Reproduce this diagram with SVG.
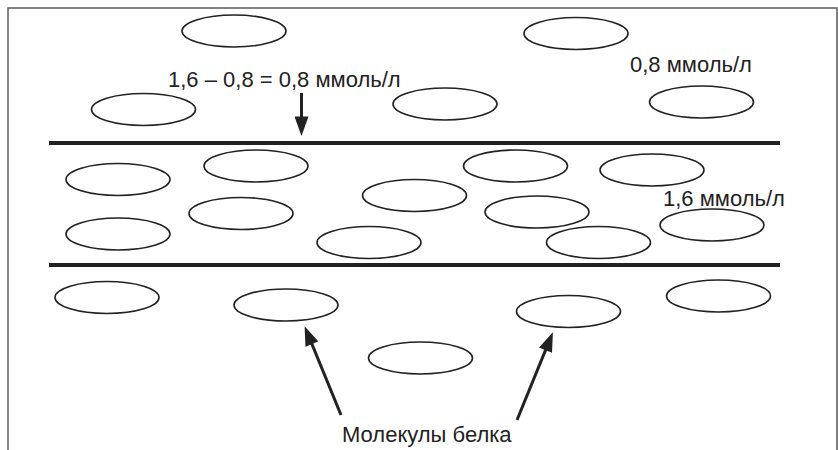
<svg xmlns="http://www.w3.org/2000/svg" width="838" height="450" viewBox="0 0 838 450">
  <style>
    .frame { stroke: #5a5a5a; stroke-width: 1.5; fill: none; }
    .wall { stroke: #222; stroke-width: 4; }
    .mol { fill: none; stroke: #222; stroke-width: 1.6; }
    .ptr { stroke: #222; stroke-width: 3; fill: none; }
    .lbl { font-family: "Liberation Sans", Arial, Helvetica, sans-serif; font-size: 22px; fill: #222; }
  </style>
  <defs>
    <marker id="head" markerUnits="userSpaceOnUse" markerWidth="20" markerHeight="14" viewBox="0 0 18 13" refX="6" refY="6.5" orient="auto">
      <path d="M0,0 L18,6.5 L0,13 Z" fill="#222"/>
    </marker>
  </defs>

  <rect width="838" height="450" fill="#fff"/>

  <!-- outer frame -->
  <path class="frame" d="M8,450 V8 H837 V450"/>

  <!-- membrane walls -->
  <g id="walls">
    <line class="wall" x1="49" y1="143" x2="780" y2="143"/>
    <line class="wall" x1="49" y1="265" x2="780" y2="265"/>
  </g>

  <!-- protein molecules: upper compartment -->
  <g id="mol-upper">
    <ellipse class="mol" cx="234" cy="31" rx="52" ry="16"/>
    <ellipse class="mol" cx="576" cy="33.5" rx="52" ry="16"/>
    <ellipse class="mol" cx="143.5" cy="109.5" rx="52" ry="16"/>
    <ellipse class="mol" cx="445" cy="104" rx="52" ry="16"/>
    <ellipse class="mol" cx="701.5" cy="102" rx="52" ry="16"/>
  </g>

  <!-- protein molecules: middle compartment -->
  <g id="mol-middle">
    <ellipse class="mol" cx="256" cy="166" rx="52" ry="16"/>
    <ellipse class="mol" cx="118" cy="179.5" rx="52" ry="16"/>
    <ellipse class="mol" cx="118" cy="234" rx="52" ry="16"/>
    <ellipse class="mol" cx="241" cy="213.5" rx="52" ry="16"/>
    <ellipse class="mol" cx="414.5" cy="195.5" rx="52" ry="16"/>
    <ellipse class="mol" cx="369" cy="242.5" rx="52" ry="16"/>
    <ellipse class="mol" cx="515.5" cy="166" rx="52" ry="16"/>
    <ellipse class="mol" cx="537" cy="212" rx="52" ry="16"/>
    <ellipse class="mol" cx="598.5" cy="242.5" rx="52" ry="16"/>
    <ellipse class="mol" cx="652" cy="170" rx="52" ry="16"/>
    <ellipse class="mol" cx="712" cy="225" rx="52" ry="16"/>
  </g>

  <!-- protein molecules: lower compartment -->
  <g id="mol-lower">
    <ellipse class="mol" cx="107" cy="297.5" rx="52" ry="16"/>
    <ellipse class="mol" cx="286" cy="305" rx="52" ry="16"/>
    <ellipse class="mol" cx="420.5" cy="358" rx="52" ry="16"/>
    <ellipse class="mol" cx="568.5" cy="311.5" rx="52" ry="16"/>
    <ellipse class="mol" cx="718.5" cy="296" rx="52" ry="16"/>
  </g>

  <!-- pointers -->
  <g id="connectors">
    <line class="ptr" x1="301.5" y1="93" x2="301.5" y2="123" marker-end="url(#head)"/>
    <line class="ptr" x1="341" y1="415" x2="309.5" y2="338.1" marker-end="url(#head)"/>
    <line class="ptr" x1="517" y1="420" x2="548" y2="344.1" marker-end="url(#head)"/>
  </g>

  <!-- labels -->
  <g id="label-diff"><text class="lbl" x="168" y="86.5">1,6 – 0,8 = 0,8 ммоль/л</text></g>
  <g id="label-upper"><text class="lbl" x="630" y="71.5">0,8 ммоль/л</text></g>
  <g id="label-middle"><text class="lbl" x="663" y="206">1,6 ммоль/л</text></g>
  <g id="label-proteins"><text class="lbl" x="342" y="441.5">Молекулы белка</text></g>
</svg>
